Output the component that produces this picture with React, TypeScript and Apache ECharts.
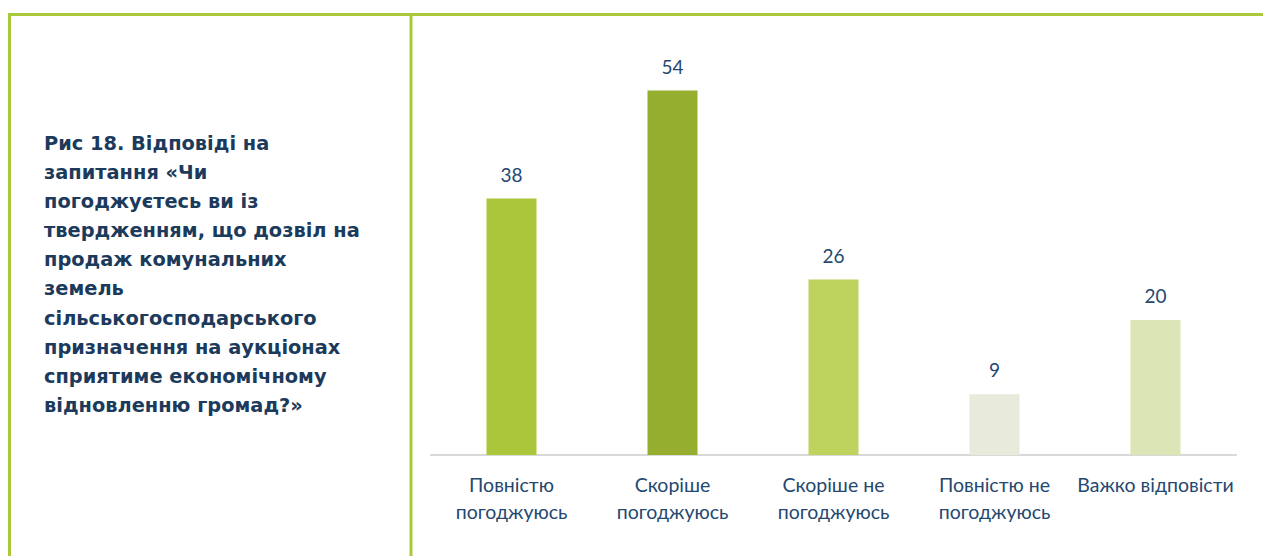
import React, { useEffect, useRef } from "react";
import * as echarts from "echarts";

const categories = [
  "Повністю\nпогоджуюсь",
  "Скоріше\nпогоджуюсь",
  "Скоріше не\nпогоджуюсь",
  "Повністю не\nпогоджуюсь",
  "Важко відповісти",
];
const values = [38, 54, 26, 9, 20];
const barColors = ["#aac63a", "#96ae2f", "#bed25e", "#e8eadc", "#dbe5b5"];
const titleLines = [
  "Рис 18. Відповіді на",
  "запитання «Чи",
  "погоджуєтесь ви із",
  "твердженням, що дозвіл на",
  "продаж комунальних",
  "земель",
  "сільськогосподарського",
  "призначення на аукціонах",
  "сприятиме економічному",
  "відновленню громад?»",
];

export default function App() {
  const ref = useRef<HTMLDivElement>(null);
  useEffect(() => {
    if (!ref.current) return;
    const chart = echarts.init(ref.current, null, { renderer: "svg" });
    const border = "#a9c83c";
    chart.setOption({
      animation: false,
      backgroundColor: "#ffffff",
      grid: { left: 431, top: 50, width: 805, height: 405 },
      xAxis: {
        type: "category",
        data: categories,
        axisLine: { lineStyle: { color: "#d9d9d9", width: 2 } },
        axisTick: { show: false },
        axisLabel: {
          color: "#244870",
          fontFamily: "Lato",
          fontSize: 19.5,
          lineHeight: 27,
          margin: 16,
          interval: 0,
        },
      },
      yAxis: {
        type: "value",
        min: 0,
        max: 60,
        show: false,
        splitLine: { show: false },
      },
      series: [
        {
          type: "bar",
          barWidth: 50,
          data: values.map((v, i) => ({ value: v, itemStyle: { color: barColors[i] } })),
          label: {
            show: true,
            position: "top",
            distance: 15,
            color: "#244870",
            fontFamily: "Lato",
            fontSize: 19,
          },
        },
      ],
      graphic: [
        {
          type: "line",
          shape: { x1: 8, y1: 14.5, x2: 1263, y2: 14.5 },
          style: { stroke: border, lineWidth: 3 },
        },
        {
          type: "line",
          shape: { x1: 9.5, y1: 13, x2: 9.5, y2: 556 },
          style: { stroke: border, lineWidth: 3 },
        },
        {
          type: "line",
          shape: { x1: 411, y1: 13, x2: 411, y2: 556 },
          style: { stroke: border, lineWidth: 3 },
        },
        {
          type: "text",
          left: 44,
          top: 129,
          scaleX: 1.02,
          style: {
            text: titleLines.join("\n"),
            fill: "#1b3a5c",
            font: "bold 19px 'DejaVu Sans'",
            lineHeight: 29.1,
          },
        },
      ],
    });
    return () => chart.dispose();
  }, []);
  return (
    <div
      ref={ref}
      style={{ position: "fixed", left: 0, top: 0, width: 1263, height: 556 }}
    />
  );
}
